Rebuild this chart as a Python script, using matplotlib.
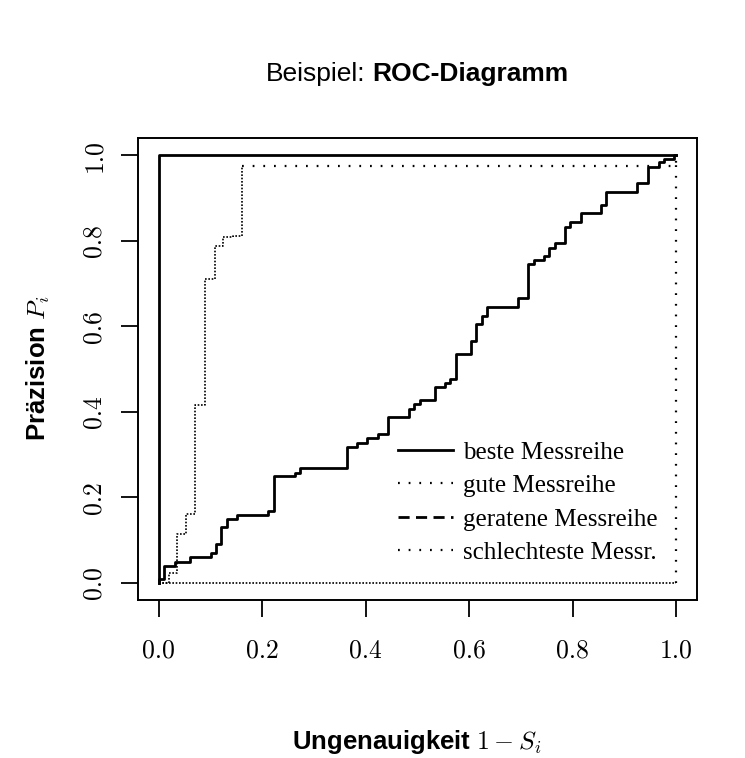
# ROC-Diagramm (Beispiel)
# step curves for four measurement series
##############################################################################

# IMPORT STATEMENTS
##############################################################################
import matplotlib
matplotlib.use('Agg')
import matplotlib.pyplot as plt
from matplotlib.lines import Line2D


# DATA
##############################################################################
# beste Messreihe
best_x = [0.0, 0.0, 1.0]
best_y = [0.0, 1.0, 1.0]

# gute Messreihe (x = position of the jump, y = value after the jump)
good_x = [0.0, 0.019, 0.036, 0.053, 0.071, 0.090, 0.108, 0.125, 0.143, 0.160, 1.0]
good_y = [0.0, 0.024, 0.115, 0.160, 0.417, 0.711, 0.788, 0.808, 0.810, 0.975, 1.0]

# geratene Messreihe
guess_x = [0.0, 0.0, 0.010, 0.031, 0.061, 0.101, 0.111, 0.121, 0.132, 0.152,
           0.212, 0.222, 0.263, 0.273, 0.364, 0.383, 0.403, 0.423, 0.443,
           0.484, 0.493, 0.504, 0.534, 0.553, 0.563, 0.574, 0.604, 0.613,
           0.624, 0.634, 0.695, 0.713, 0.725, 0.745, 0.755, 0.765, 0.784,
           0.794, 0.815, 0.854, 0.864, 0.925, 0.945, 0.966, 0.976, 0.995, 1.0]
guess_y = [0.0, 0.010, 0.040, 0.050, 0.060, 0.071, 0.090, 0.130, 0.149, 0.159,
           0.169, 0.249, 0.258, 0.268, 0.318, 0.328, 0.338, 0.349, 0.389,
           0.407, 0.418, 0.427, 0.457, 0.467, 0.477, 0.536, 0.566, 0.605,
           0.625, 0.644, 0.665, 0.745, 0.755, 0.764, 0.784, 0.794, 0.833,
           0.844, 0.864, 0.884, 0.914, 0.934, 0.973, 0.983, 0.992, 1.0, 1.0]

# schlechteste Messreihe
worst_x = [0.0, 1.0, 1.0]
worst_y = [0.0, 0.0, 1.0]

legend_labels = ['beste Messreihe', 'gute Messreihe',
                 'geratene Messreihe', 'schlechteste Messr.']
tick_values = [0.0, 0.2, 0.4, 0.6, 0.8, 1.0]
tick_labels = ['0.0', '0.2', '0.4', '0.6', '0.8', '1.0']


# STYLES
##############################################################################
plt.rcParams['mathtext.fontset'] = 'cm'
dense_dots = (0, (1, 1))
sparse_dots = (0, (0.8, 4.0))
dashes = (0, (4, 2.3))


# PLOT
##############################################################################
fig = plt.figure(figsize=(7.45, 7.58), dpi=100)
ax = fig.add_axes([0.1852, 0.2084, 0.7504, 0.6095])

ax.plot(best_x, best_y, color='black', lw=2.0)
ax.step(good_x[:10], good_y[:10], where='post', color='black', lw=1.2, linestyle=dense_dots)
ax.step(good_x[9:], good_y[9:], where='post', color='black', lw=1.6, linestyle=sparse_dots)
ax.step(guess_x, guess_y, where='post', color='black', lw=2.0)
ax.plot(worst_x[:2], worst_y[:2], color='black', lw=1.2, linestyle=dense_dots)
ax.plot(worst_x[1:], worst_y[1:], color='black', lw=1.6, linestyle=sparse_dots)

ax.set_xlim(-0.04, 1.04)
ax.set_ylim(-0.04, 1.04)

ax.set_xticks(tick_values)
ax.set_xticklabels(tick_labels, family='cmr10', fontsize=18.5)
ax.set_yticks(tick_values)
ax.set_yticklabels(tick_labels, family='cmr10', fontsize=18.5, rotation=90, va='center')
ax.tick_params(length=12.2, width=1.3, direction='out')
ax.tick_params(axis='x', pad=16)
ax.tick_params(axis='y', pad=11)
for s in ax.spines.values():
    s.set_linewidth(1.4)

handles = [Line2D([], [], color='black', lw=2.0),
           Line2D([], [], color='black', lw=1.6, linestyle=sparse_dots),
           Line2D([], [], color='black', lw=2.0, linestyle=dashes),
           Line2D([], [], color='black', lw=1.6, linestyle=sparse_dots)]
ax.legend(handles, legend_labels, loc='upper left', bbox_to_anchor=(0.465, 0.344),
          frameon=False, borderpad=0, borderaxespad=0, handlelength=2.2,
          handletextpad=0.4, labelspacing=0.44,
          prop={'family': 'Liberation Serif', 'size': 18})

# axis labels
fig.text(0.5597, 1 - 749 / 758, r'Ungenauigkeit $1-S_i$', ha='center', va='baseline',
         family='Liberation Sans', weight='bold', fontsize=18.5)
fig.text(38 / 745, 0.5135, r'Präzision $P_i$', ha='center', va='center', rotation=90,
         family='Liberation Sans', weight='bold', fontsize=18.5)

# title: regular part + bold part, centred together
title_y = 1 - 81 / 758
t1 = fig.text(0, title_y, 'Beispiel:', va='baseline', family='Liberation Sans', fontsize=19)
t2 = fig.text(0, title_y, 'ROC-Diagramm', va='baseline', family='Liberation Sans',
              weight='bold', fontsize=19)
renderer = fig.canvas.get_renderer()
w1 = t1.get_window_extent(renderer).width
w2 = t2.get_window_extent(renderer).width
gap = 7.0
start = 417 - (w1 + gap + w2) / 2
t1.set_x(start / 745)
t2.set_x((start + w1 + gap) / 745)

plt.savefig('out.png', dpi=100)
